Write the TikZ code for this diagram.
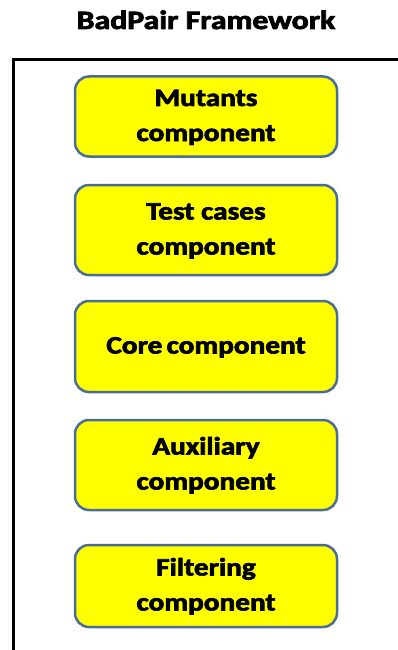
\documentclass[tikz,border=0pt]{standalone}
\usepackage{fontspec}
\setmainfont{Carlito}[BoldFeatures={FakeBold=2.6}]
\definecolor{boxfill}{HTML}{FFFF00}
\definecolor{boxedge}{HTML}{4A6D98}
% wide, centred block of lines
\newcommand\widetext[1]{\scalebox{1.17}[1]{\begin{tabular}{@{}c@{}}#1\end{tabular}}}
\begin{document}
\begin{tikzpicture}[x=1pt,y=-1pt,
  compbox/.style={draw=boxedge, line width=2.5pt, fill=boxfill, rounded corners=14pt,
    minimum width=262pt, inner sep=0pt, align=center,
    font=\bfseries\fontsize{25}{35}\selectfont},
  frameline/.style={line width=3pt, black}]
  \useasboundingbox (0,0) rectangle (398,650);
  % title
  \node[font=\bfseries\fontsize{26.5}{30}\selectfont, anchor=base, inner sep=0pt] (title) at (206,29) {\scalebox{1.2}[1]{BadPair Framework}};
  % framework border, open to the right and bottom
  \coordinate (fbl) at (13,652);
  \coordinate (ftl) at (13,59.5);
  \coordinate (ftr) at (402,59.5);
  \draw[frameline] (fbl) -- (ftl) -- (ftr);
  % components
  \node[compbox, minimum height=80pt] (mut) at (206,116.5) {\widetext{Mutants\\component}};
  \node[compbox, minimum height=90pt] (tc)  at (206,230) {\widetext{Test cases\\component}};
  \node[compbox, minimum height=91pt] (core) at (206,346.5) {\widetext{Core\hspace{-2pt} component}};
  \node[compbox, minimum height=90pt] (aux) at (206,465) {\widetext{Auxiliary\\component}};
  \node[compbox, minimum height=82pt] (filt) at (206,586) {\widetext{Filtering\\component}};
\end{tikzpicture}
\end{document}
